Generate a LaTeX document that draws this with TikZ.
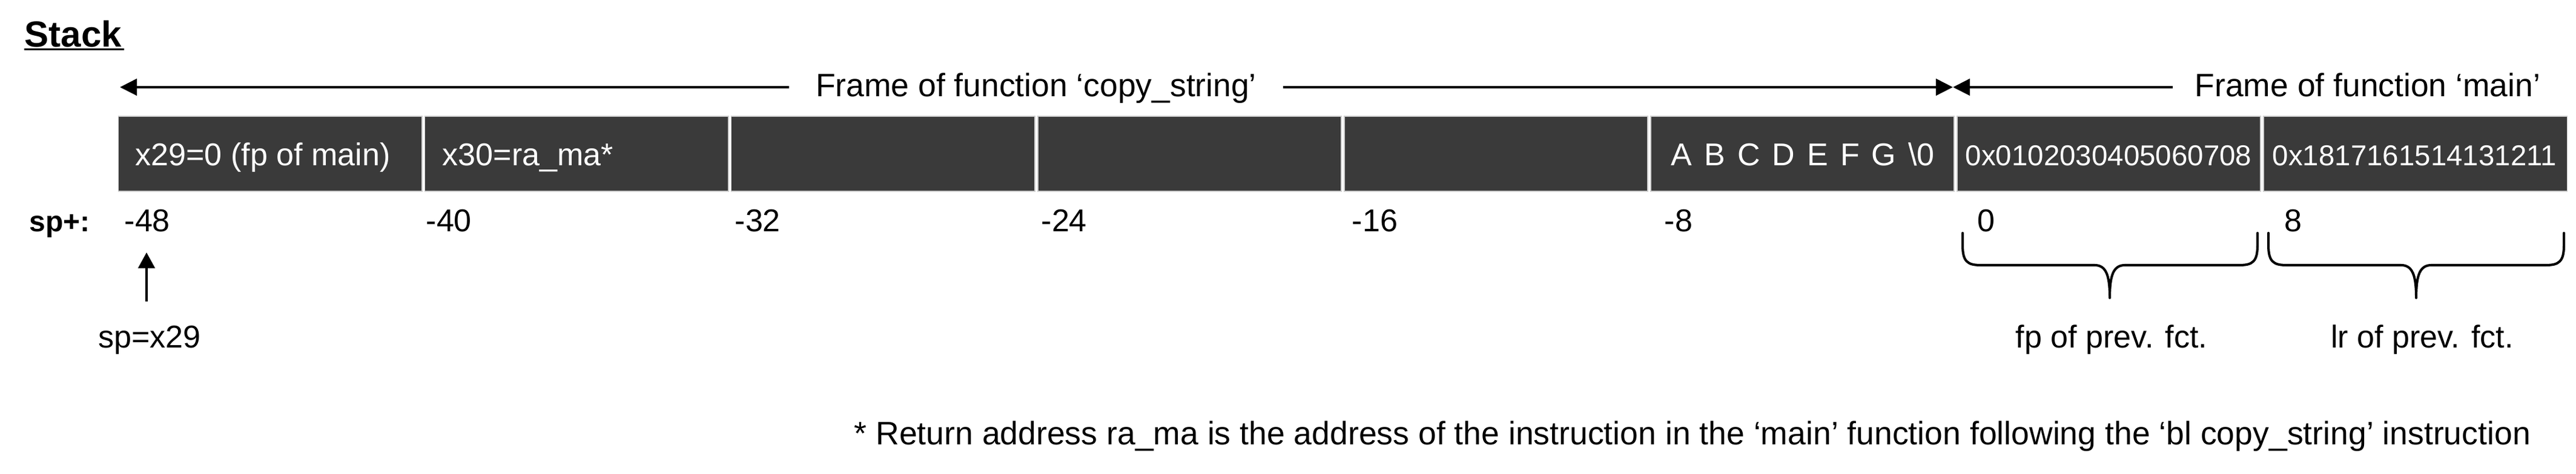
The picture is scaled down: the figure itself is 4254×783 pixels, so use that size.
\documentclass[tikz,border=0pt]{standalone}
\usepackage{fontspec}
\setmainfont{Liberation Sans}
\usetikzlibrary{arrows.meta}
\definecolor{cellfill}{HTML}{3A3A3A}
\definecolor{cellborder}{HTML}{D0D0D0}
\tikzset{
  lbl/.style={inner sep=0pt, anchor=base west, font=\fontsize{14.8}{17}\selectfont},
  framelbl/.style={inner sep=0pt, anchor=base west, font=\fontsize{15.2}{18}\selectfont},
  boldlbl/.style={inner sep=0pt, anchor=base west, font=\fontsize{13.66}{16}\selectfont\bfseries},
  titlelbl/.style={inner sep=0pt, anchor=base west, font=\fontsize{17.07}{20}\selectfont\bfseries},
  celltxt/.style={inner sep=0pt, anchor=base west, text=white, font=\fontsize{14.8}{17}\selectfont},
  hextxt/.style={inner sep=0pt, anchor=base west, text=white, font=\fontsize{13.5}{16}\selectfont},
  notetxt/.style={inner sep=0pt, anchor=base west, font=\fontsize{15.23}{18}\selectfont},
  cellbox/.style={draw=cellborder, fill=cellfill, line width=0.5pt, inner sep=0pt, outer sep=0pt,
                  minimum width=5.01cm, minimum height=1.24cm},
  arr/.style={line width=1.35pt, -{Triangle[length=0.28cm, width=0.27cm]}},
  bracepath/.style={line width=1.15pt, line cap=round, line join=round},
}
\begin{document}
\begin{tikzpicture}[x=0.01cm, y=-0.01cm]
\useasboundingbox (0,0) rectangle (4254,783);

% title
\node[titlelbl] (title) at (40,78) {Stack};
\draw[line width=0.03cm] (title.base west) ++(0,3.5) -- ++(165,0);

% frame arrows
\coordinate (fl) at (198,144);
\coordinate (fj) at (3225,144);
\node[framelbl, anchor=base, inner xsep=0.43cm] (tc) at (1711,160) {Frame of function ‘copy\_string’};
\draw[arr] (tc.west |- fl) -- (fl);
\draw[arr] (tc.east |- fl) -- (fj);
\node[framelbl, inner xsep=0.36cm] (tm) at (3588,160) {Frame of function ‘main’};
\draw[arr] (tm.west |- fj) -- (fj);

% cells
\node[cellbox] (c1) at (446.05,254) {};
\node[cellbox] (c2) at (952.15,254) {};
\node[cellbox] (c3) at (1458.25,254) {};
\node[cellbox] (c4) at (1964.35,254) {};
\node[cellbox] (c5) at (2470.45,254) {};
\node[cellbox] (c6) at (2976.55,254) {};
\node[cellbox] (c7) at (3482.65,254) {};
\node[cellbox] (c8) at (3988.75,254) {};

\node[celltxt] (t1) at (223,274) {x29=0 (fp of main)};
\node[celltxt] (t2) at (730,274) {x30=ra\_ma*};
\node[celltxt] (t6) at (2759,274) {\spaceskip=0.2cm A B C D E F G \textbackslash0};
\node[hextxt] (t7) at (3245,274) {0x0102030405060708};
\node[hextxt] (t8) at (3752,274) {0x1817161514131211};

% offsets
\node[boldlbl] (spp) at (48,383) {sp+:};
\node[lbl] (o1) at (205,383) {-48};
\node[lbl] (o2) at (703,383) {-40};
\node[lbl] (o3) at (1213,383) {-32};
\node[lbl] (o4) at (1719,383) {-24};
\node[lbl] (o5) at (2232,383) {-16};
\node[lbl] (o6) at (2748,383) {-8};
\node[lbl] (o7) at (3265,383) {0};
\node[lbl] (o8) at (3772,383) {8};

% sp pointer
\node[lbl, anchor=base] (spx) at (247,575) {sp=x29};
\coordinate (spb) at (242,498);
\coordinate (spt) at (242,417);
\draw[line width=1.35pt, -{Triangle[length=0.26cm, width=0.27cm]}] (spb) -- (spt);

% braces
\draw[bracepath] (3241,385) -- (3241,405) .. controls (3241,432) and (3249,438) .. (3271,438)
  -- (3459,438) .. controls (3478,438) and (3484,455) .. (3484,492)
  .. controls (3484,455) and (3490,438) .. (3509,438)
  -- (3698,438) .. controls (3720,438) and (3728,432) .. (3728,405) -- (3728,385);
\draw[bracepath] (3746,385) -- (3746,405) .. controls (3746,432) and (3754,438) .. (3776,438)
  -- (3965,438) .. controls (3984,438) and (3990,455) .. (3990,492)
  .. controls (3990,455) and (3996,438) .. (4015,438)
  -- (4204,438) .. controls (4226,438) and (4234,432) .. (4234,405) -- (4234,385);
\node[lbl, anchor=base] (fpl) at (3487,575) {fp of prev. fct.};
\node[lbl, anchor=base] (lrl) at (4000,575) {lr of prev. fct.};

% footnote
\node[notetxt] (note) at (1410,735) {* Return address ra\_ma is the address of the instruction in the ‘main’ function following the ‘bl copy\_string’ instruction};
\end{tikzpicture}
\end{document}
